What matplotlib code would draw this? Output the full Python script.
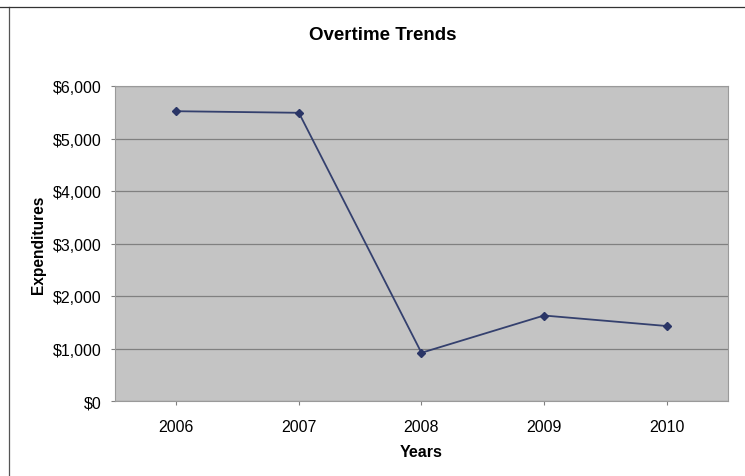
import matplotlib
matplotlib.use("Agg")
import matplotlib.pyplot as plt
from matplotlib.ticker import FuncFormatter
from matplotlib.lines import Line2D

years = ["2006", "2007", "2008", "2009", "2010"]
expenditures = [5520, 5490, 920, 1630, 1430]
yticks = [0, 1000, 2000, 3000, 4000, 5000, 6000]

plt.rcParams['font.family'] = ['Liberation Sans', 'DejaVu Sans']

fig = plt.figure(figsize=(7.45, 4.77), dpi=100)
ax = fig.add_axes([0.1544, 0.157, 0.8226, 0.6606])
ax.set_facecolor("#c4c4c4")

x = range(len(years))
ax.plot(x, expenditures, color="#34406e", linewidth=1.3, marker="D",
        markersize=4.5, markerfacecolor="#2a3566", markeredgecolor="#2a3566")

ax.set_xlim(-0.5, len(years) - 0.5)
ax.set_ylim(0, 6000)
ax.set_xticks(list(x))
ax.set_xticklabels(years)
ax.set_yticks(yticks)
ax.yaxis.set_major_formatter(FuncFormatter(lambda v, p: "${:,.0f}".format(v)))
ax.grid(axis="y", color="#808080", linewidth=0.9)
ax.set_axisbelow(True)
ax.tick_params(axis="both", labelsize=11.5, length=3, color="#808080")
ax.tick_params(axis="x", pad=10)
ax.tick_params(axis="y", pad=6.5)
for s in ax.spines.values():
    s.set_color("#9a9a9a")
    s.set_linewidth(0.8)

fig.text(383 / 745, 1 - 36 / 477, "Overtime Trends", fontsize=13.5,
         fontweight="bold", ha="center", va="center")
ax.set_xlabel("Years", fontsize=11.5, fontweight="bold", labelpad=7)
ax.set_ylabel("Expenditures", fontsize=11.2, fontweight="bold", labelpad=5)

# chart frame remnants from the scan
fig.add_artist(Line2D([9 / 745, 9 / 745], [0, 1 - 8 / 477], color="#555555", linewidth=0.9))
fig.add_artist(Line2D([0, 1], [1 - 8 / 477, 1 - 8 / 477], color="#333333", linewidth=0.9))

fig.savefig("out.png", dpi=100)
